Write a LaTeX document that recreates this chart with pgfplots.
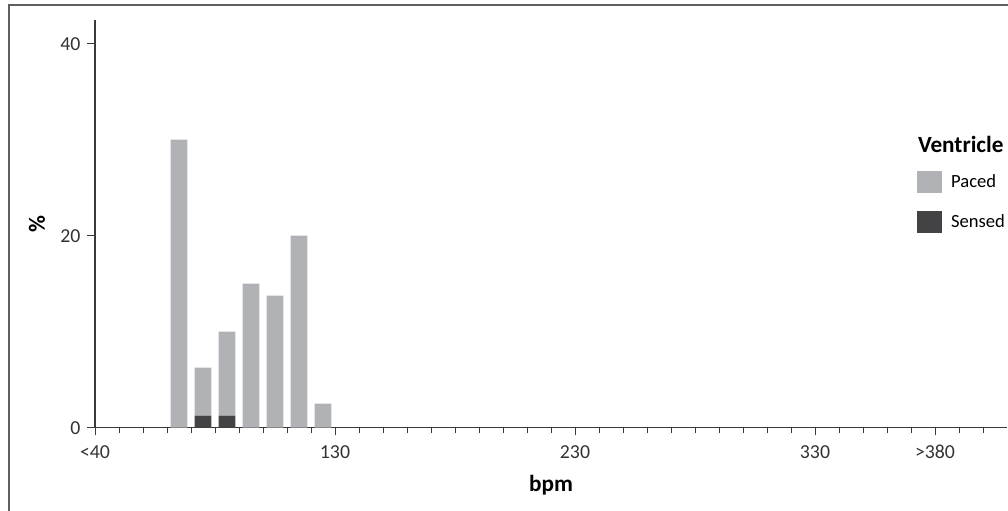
\documentclass[border=0pt]{standalone}
\usepackage{fontspec}
\setmainfont{Carlito}
\usepackage{pgfplots}
\pgfplotsset{compat=1.18}
\definecolor{paced}{HTML}{B1B2B5}
\definecolor{sensed}{HTML}{434345}
\definecolor{axisgray}{HTML}{3A3A3A}
\definecolor{framegray}{HTML}{5F5F5F}
\pgfplotsset{sq legend/.style={legend image code/.code={\fill[##1] (0pt,-5.5pt) rectangle (12.5pt,5.5pt);}}}

\begin{document}
\begin{tikzpicture}
\useasboundingbox (0,0) rectangle (504pt,255pt);
\draw[framegray,line width=1pt] (4.5pt,-1pt) -- (4.5pt,252.5pt) -- (505pt,252.5pt);
\begin{axis}[
  at={(47.5pt,41.15pt)},anchor=south west,
  scale only axis,width=456pt,height=204pt,
  xmin=30,xmax=410,ymin=0,ymax=42.5,
  axis x line*=bottom,axis y line*=left,
  axis line style={-,draw=axisgray,line width=0.6pt},
  ybar stacked,bar width=7,
  xtick={30,130,230,330,380},
  xticklabels={<40,130,230,330,>380},
  minor xtick={40,50,...,400},
  ytick={0,20,40},yticklabels={0,20,40},
  tick align=outside,
  major tick length=3.8pt,minor tick length=2.5pt,
  tick style={draw=axisgray,line width=0.5pt},
  tick label style={text=black!80,font=\fontsize{9.9}{11}\selectfont},
  x tick label style={yshift=-1.5pt},
  xlabel={bpm},ylabel={\%},
  label style={font=\fontsize{11.6}{13}\selectfont\bfseries},
  xlabel style={at={(axis description cs:0.5,-0.157)},anchor=base},
  ylabel style={at={(axis description cs:-0.0636,0.5)},anchor=center},
  legend style={at={(axis description cs:0.901,0.63)},anchor=north west,
    draw=none,fill=none,inner sep=0pt,row sep=9pt,column sep=4.5pt,
    font=\fontsize{9.3}{11}\selectfont,
    nodes={inner sep=0pt,anchor=west}},
  legend cell align=left,
  reverse legend,
]
\addplot[fill=sensed,draw=none,sq legend]
  coordinates {(65,0) (75,1.25) (85,1.25) (95,0) (105,0) (115,0) (125,0)};
\addplot[fill=paced,draw=none,sq legend]
  coordinates {(65,30) (75,5) (85,8.75) (95,15) (105,13.75) (115,20) (125,2.5)};
\legend{Sensed,Paced}
\node[anchor=base west,font=\fontsize{11.6}{13}\selectfont\bfseries,inner sep=0pt]
  at (axis description cs:0.902,0.674) {Ventricle};
\end{axis}
\end{tikzpicture}
\end{document}
